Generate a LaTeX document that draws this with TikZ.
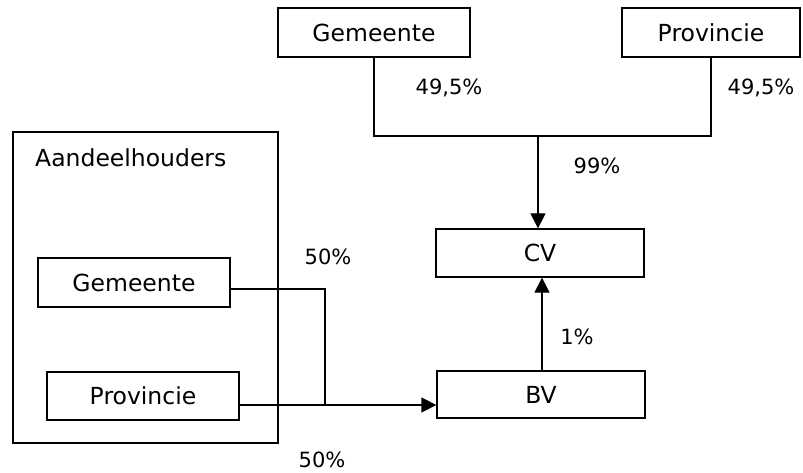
\documentclass[tikz,border=0pt]{standalone}
\usepackage{fontspec}
\setmainfont{DejaVu Sans}
\usetikzlibrary{arrows.meta}
\begin{document}
\begin{tikzpicture}[x=1pt,y=-1pt,
  box/.style={draw, line width=1.3pt, inner sep=0pt, font=\fontsize{23.5}{28}\selectfont},
  pct/.style={inner sep=0pt, font=\fontsize{21}{25}\selectfont},
  conn/.style={line width=1.3pt},
  arr/.style={conn, -{Triangle[width=15pt,length=15pt]}}]
\useasboundingbox (0,0) rectangle (803,473);
% top owners
\node[box, minimum width=192pt, minimum height=49pt] (gemT) at (374,32.5) {Gemeente};
\node[box, minimum width=178pt, minimum height=49pt] (provT) at (711,32.5) {Provincie};
% group of shareholders
\node[draw, line width=1.3pt, minimum width=265pt, minimum height=311pt, inner sep=0pt] (grp) at (145.5,287.5) {};
\node[anchor=west, inner sep=0pt, font=\fontsize{23.5}{28}\selectfont] (ah) at (35,158) {Aandeelhouders};
\node[box, minimum width=192pt, minimum height=49pt] (gemL) at (134,282.5) {Gemeente};
\node[box, minimum width=192pt, minimum height=48pt] (provL) at (143,396) {Provincie};
% companies
\node[box, minimum width=208pt, minimum height=48pt] (cv) at (540,253) {CV};
\node[box, minimum width=208pt, minimum height=47pt] (bv) at (541,394.5) {BV};
% coordinates
\coordinate (j) at (538,136);
\coordinate (u) at (542,0);
\coordinate (m1) at (325,289);
\coordinate (m2) at (325,405);
% connectors
\draw[conn] (gemT.south) |- (j) -| (provT.south);
\draw[arr] (j) -- (cv.north -| j);
\draw[arr] (bv.north -| u) -- (cv.south -| u);
\draw[conn] (gemL.east |- m1) -- (m1) -- (m2);
\draw[arr] (provL.east |- m2) -- (bv.west |- m2);
% labels
\node[pct] (l1) at (449,88) {49,5\%};
\node[pct] (l2) at (761,88) {49,5\%};
\node[pct] (l3) at (597,166) {99\%};
\node[pct] (l4) at (577,337) {1\%};
\node[pct] (l5) at (328,257) {50\%};
\node[pct] (l6) at (322,460) {50\%};
\end{tikzpicture}
\end{document}
